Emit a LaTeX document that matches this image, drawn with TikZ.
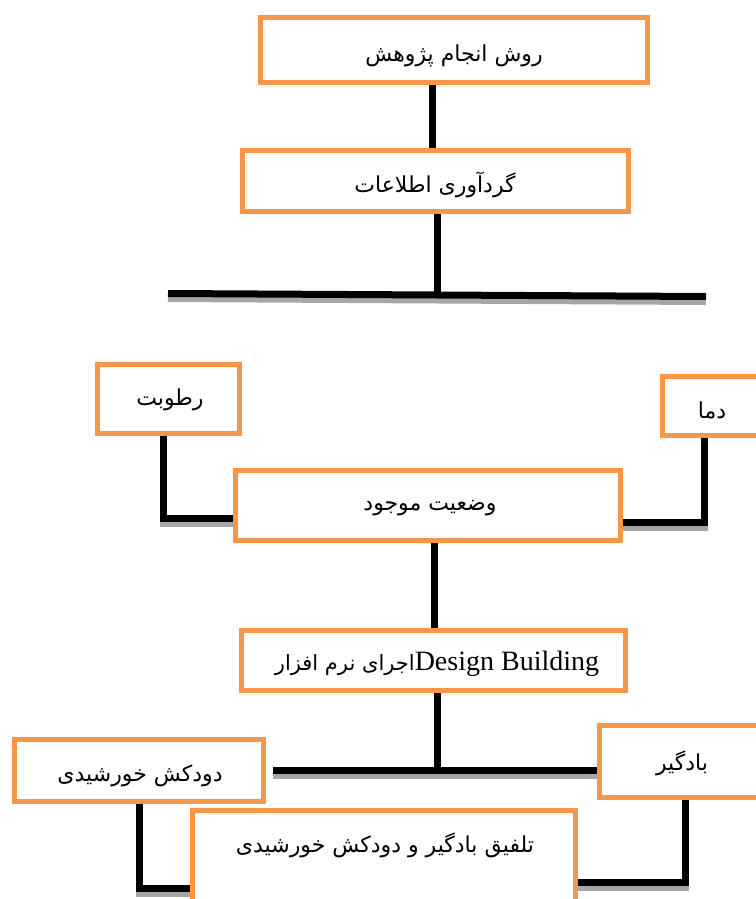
\documentclass[tikz,border=0pt]{standalone}
\usepackage{fontspec}
\setmainfont{Liberation Serif}
\newfontfamily\arabicfont[Script=Arabic]{DejaVu Sans}
\TeXXeTstate=1
\usetikzlibrary{backgrounds}
\definecolor{boxorange}{HTML}{F79646}
\definecolor{shadegray}{HTML}{A6A6A6}
\tikzset{
  box/.style={draw=boxorange, line width=5pt, fill=white, inner sep=0pt},
  fa/.style={font=\arabicfont\fontsize{22}{25}\selectfont, inner sep=0pt},
  conn/.style={line width=7pt, black, line join=miter},
  shad/.style={line width=7pt, shadegray, line join=miter, transform canvas={yshift=-5pt}},
}
\begin{document}
\begin{tikzpicture}[x=1pt,y=-1pt]
\useasboundingbox (0,0) rectangle (755,899);
% boxes
\node[box, minimum width=387, minimum height=65] (b1) at (454,50) {};
\node[fa] (t1) at (454,56) {\beginR روش انجام پژوهش\endR};
\node[box, minimum width=386, minimum height=61] (b2) at (435.5,181) {};
\node[fa] (t2) at (435,185) {\beginR گردآوری اطلاعات\endR};
\node[box, minimum width=142, minimum height=69] (hum) at (168.5,399) {};
\node[fa] (thum) at (170,400) {\beginR رطوبت\endR};
\node[box, minimum width=99, minimum height=59] (dam) at (712,406) {};
\node[fa] (tdam) at (712,410) {\beginR دما\endR};
\node[box, minimum width=385, minimum height=70] (cur) at (428,505.5) {};
\node[fa] (tcur) at (430,508) {\beginR وضعیت موجود\endR};
\node[box, minimum width=384, minimum height=60] (des) at (433.5,660.5) {};
\node[inner sep=0pt] (tdes) at (437,664) {{\arabicfont\fontsize{21}{24}\selectfont\beginR اجرای نرم افزار\endR}{\fontsize{28}{31}\selectfont Design Building}};
\node[box, minimum width=249, minimum height=62] (dud) at (139,770.5) {};
\node[fa] (tdud) at (140,776) {\beginR دودکش خورشیدی\endR};
\node[box, minimum width=165, minimum height=72] (bad) at (682,761.5) {};
\node[fa] (tbad) at (682,763) {\beginR بادگیر\endR};
\node[box, minimum width=383, minimum height=107] (tal) at (384,864) {};
\node[fa] (ttal) at (385,845) {\beginR تلفیق بادگیر و دودکش خورشیدی\endR};
% connector coordinates
\coordinate (v1) at (432,0);
\coordinate (v2) at (437,0);
\coordinate (barL) at (168,293.5);
\coordinate (barR) at (706,296.5);
\coordinate (j1) at (437,295);
\coordinate (h1) at (163,518.5);
\coordinate (d1) at (704,522);
\coordinate (v3) at (434,0);
\coordinate (j2) at (437,770.5);
\coordinate (bar2L) at (273,770.5);
\coordinate (k1) at (139,888);
\coordinate (g1) at (685,882);
\begin{scope}[on background layer]
  % shadows
  \draw[shad] (barL) -- (barR);
  \draw[shad] (b2.south -| v2) -- (j1);
  \draw[shad] (hum.south -| h1) -- (h1) -- (cur.west |- h1);
  \draw[shad] (dam.south -| d1) -- (d1) -- (cur.east |- d1);
  \draw[shad] (des.south -| j2) -- (j2);
  \draw[shad] (bar2L) -- (bad.west |- bar2L);
  \draw[shad] (dud.south -| k1) -- (k1) -- (tal.west |- k1);
  \draw[shad] (bad.south -| g1) -- (g1) -- (tal.east |- g1);
  % black connectors
  \draw[conn] (b1.south -| v1) -- (b2.north -| v1);
  \draw[conn] (b2.south -| v2) -- (j1);
  \draw[conn] (barL) -- (barR);
  \draw[conn] (hum.south -| h1) -- (h1) -- (cur.west |- h1);
  \draw[conn] (dam.south -| d1) -- (d1) -- (cur.east |- d1);
  \draw[conn] (cur.south -| v3) -- (des.north -| v3);
  \draw[conn] (des.south -| j2) -- (j2);
  \draw[conn] (bar2L) -- (bad.west |- bar2L);
  \draw[conn] (dud.south -| k1) -- (k1) -- (tal.west |- k1);
  \draw[conn] (bad.south -| g1) -- (g1) -- (tal.east |- g1);
\end{scope}
\end{tikzpicture}
\end{document}
